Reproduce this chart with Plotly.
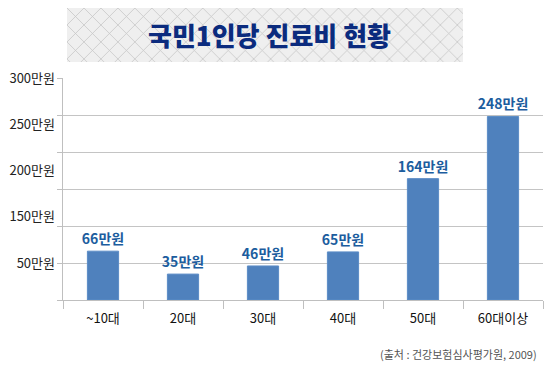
import numpy as np
import plotly.graph_objects as go

categories = ["~10대", "20대", "30대", "40대", "50대", "60대이상"]
values = [66, 35, 46, 65, 164, 248]
y_tick_labels = ["300만원", "250만원", "200만원", "150만원", "50만원"]
title_text = "국민1인당 진료비 현황"
source_text = "(출처 : 건강보험심사평가원, 2009)"

W, H = 557, 375
OFF = 8  # page body margin offset
FONT = "Noto Sans CJK KR"


def px(x):
    return (x - OFF) / W


def py(y):
    return 1 - (y - OFF) / H


fig = go.Figure()

# banner background with crosshatch pattern
fig.add_trace(go.Bar(
    x=[0], y=[1], width=[1], xaxis="x2", yaxis="y2",
    marker=dict(color="#efefef", line=dict(width=0),
                pattern=dict(shape="x", size=12, solidity=0.12,
                             fgcolor="#c4c4c4", bgcolor="#efefef")),
    hoverinfo="skip", showlegend=False,
))

fig.add_trace(go.Bar(
    x=categories, y=values, width=0.39,
    marker=dict(color="#4F81BD", line=dict(color="#5b8cc6", width=1)),
    text=[f"{v}만원" for v in values], textposition="outside",
    constraintext="none",
    textfont=dict(family=FONT, size=14, color="#1c5d9e", weight="bold"),
    cliponaxis=False, showlegend=False,
))

# invisible trace to carry the second y axis labels
fig.add_trace(go.Scatter(x=[categories[0]], y=[0], yaxis="y3", mode="markers",
                         marker=dict(opacity=0), hoverinfo="skip", showlegend=False))

fig.update_layout(
    width=W, height=H,
    margin=dict(l=0, r=0, t=0, b=0),
    paper_bgcolor="white", plot_bgcolor="white",
    template="none",
    xaxis=dict(domain=[px(63), px(543)], type="category", showgrid=False,
               showline=True, linecolor="#bfbfbf", linewidth=1,
               ticks="outside", tickson="boundaries", ticklen=8,
               tickcolor="#bfbfbf", ticklabelstandoff=6,
               tickfont=dict(family=FONT, size=13, color="#111"),
               automargin=False, zeroline=False),
    yaxis=dict(domain=[py(300), py(78)], range=[0, 300], dtick=50, showgrid=True,
               gridcolor="#c4c4c4", gridwidth=1, showline=True, linecolor="#bfbfbf",
               ticks="outside", ticklen=5, tickcolor="#bfbfbf",
               showticklabels=False, automargin=False, zeroline=False),
    yaxis3=dict(overlaying="y", range=[0, 300], side="left", showgrid=False,
                showline=False, ticks="", tickvals=np.linspace(300, 50, len(y_tick_labels)),
                ticktext=y_tick_labels, ticklabelstandoff=7,
                tickfont=dict(family=FONT, size=13, color="#222"),
                automargin=False, zeroline=False),
    xaxis2=dict(domain=[px(67), px(463)], range=[-0.5, 0.5], visible=False,
                anchor="y2", fixedrange=True),
    yaxis2=dict(domain=[py(62), py(8)], range=[0, 1], visible=False,
                anchor="x2", fixedrange=True),
    annotations=[
        dict(text=title_text, x=px(269), y=py(35), xref="paper", yref="paper",
             showarrow=False, xanchor="center", yanchor="middle",
             font=dict(family=FONT, size=26, color="#0b2b7e", weight=900)),
        dict(text=source_text, x=px(539), y=py(354), xref="paper", yref="paper",
             showarrow=False, xanchor="right", yanchor="middle",
             font=dict(family=FONT, size=11, color="#555")),
    ],
)

fig.write_html("out.html")
